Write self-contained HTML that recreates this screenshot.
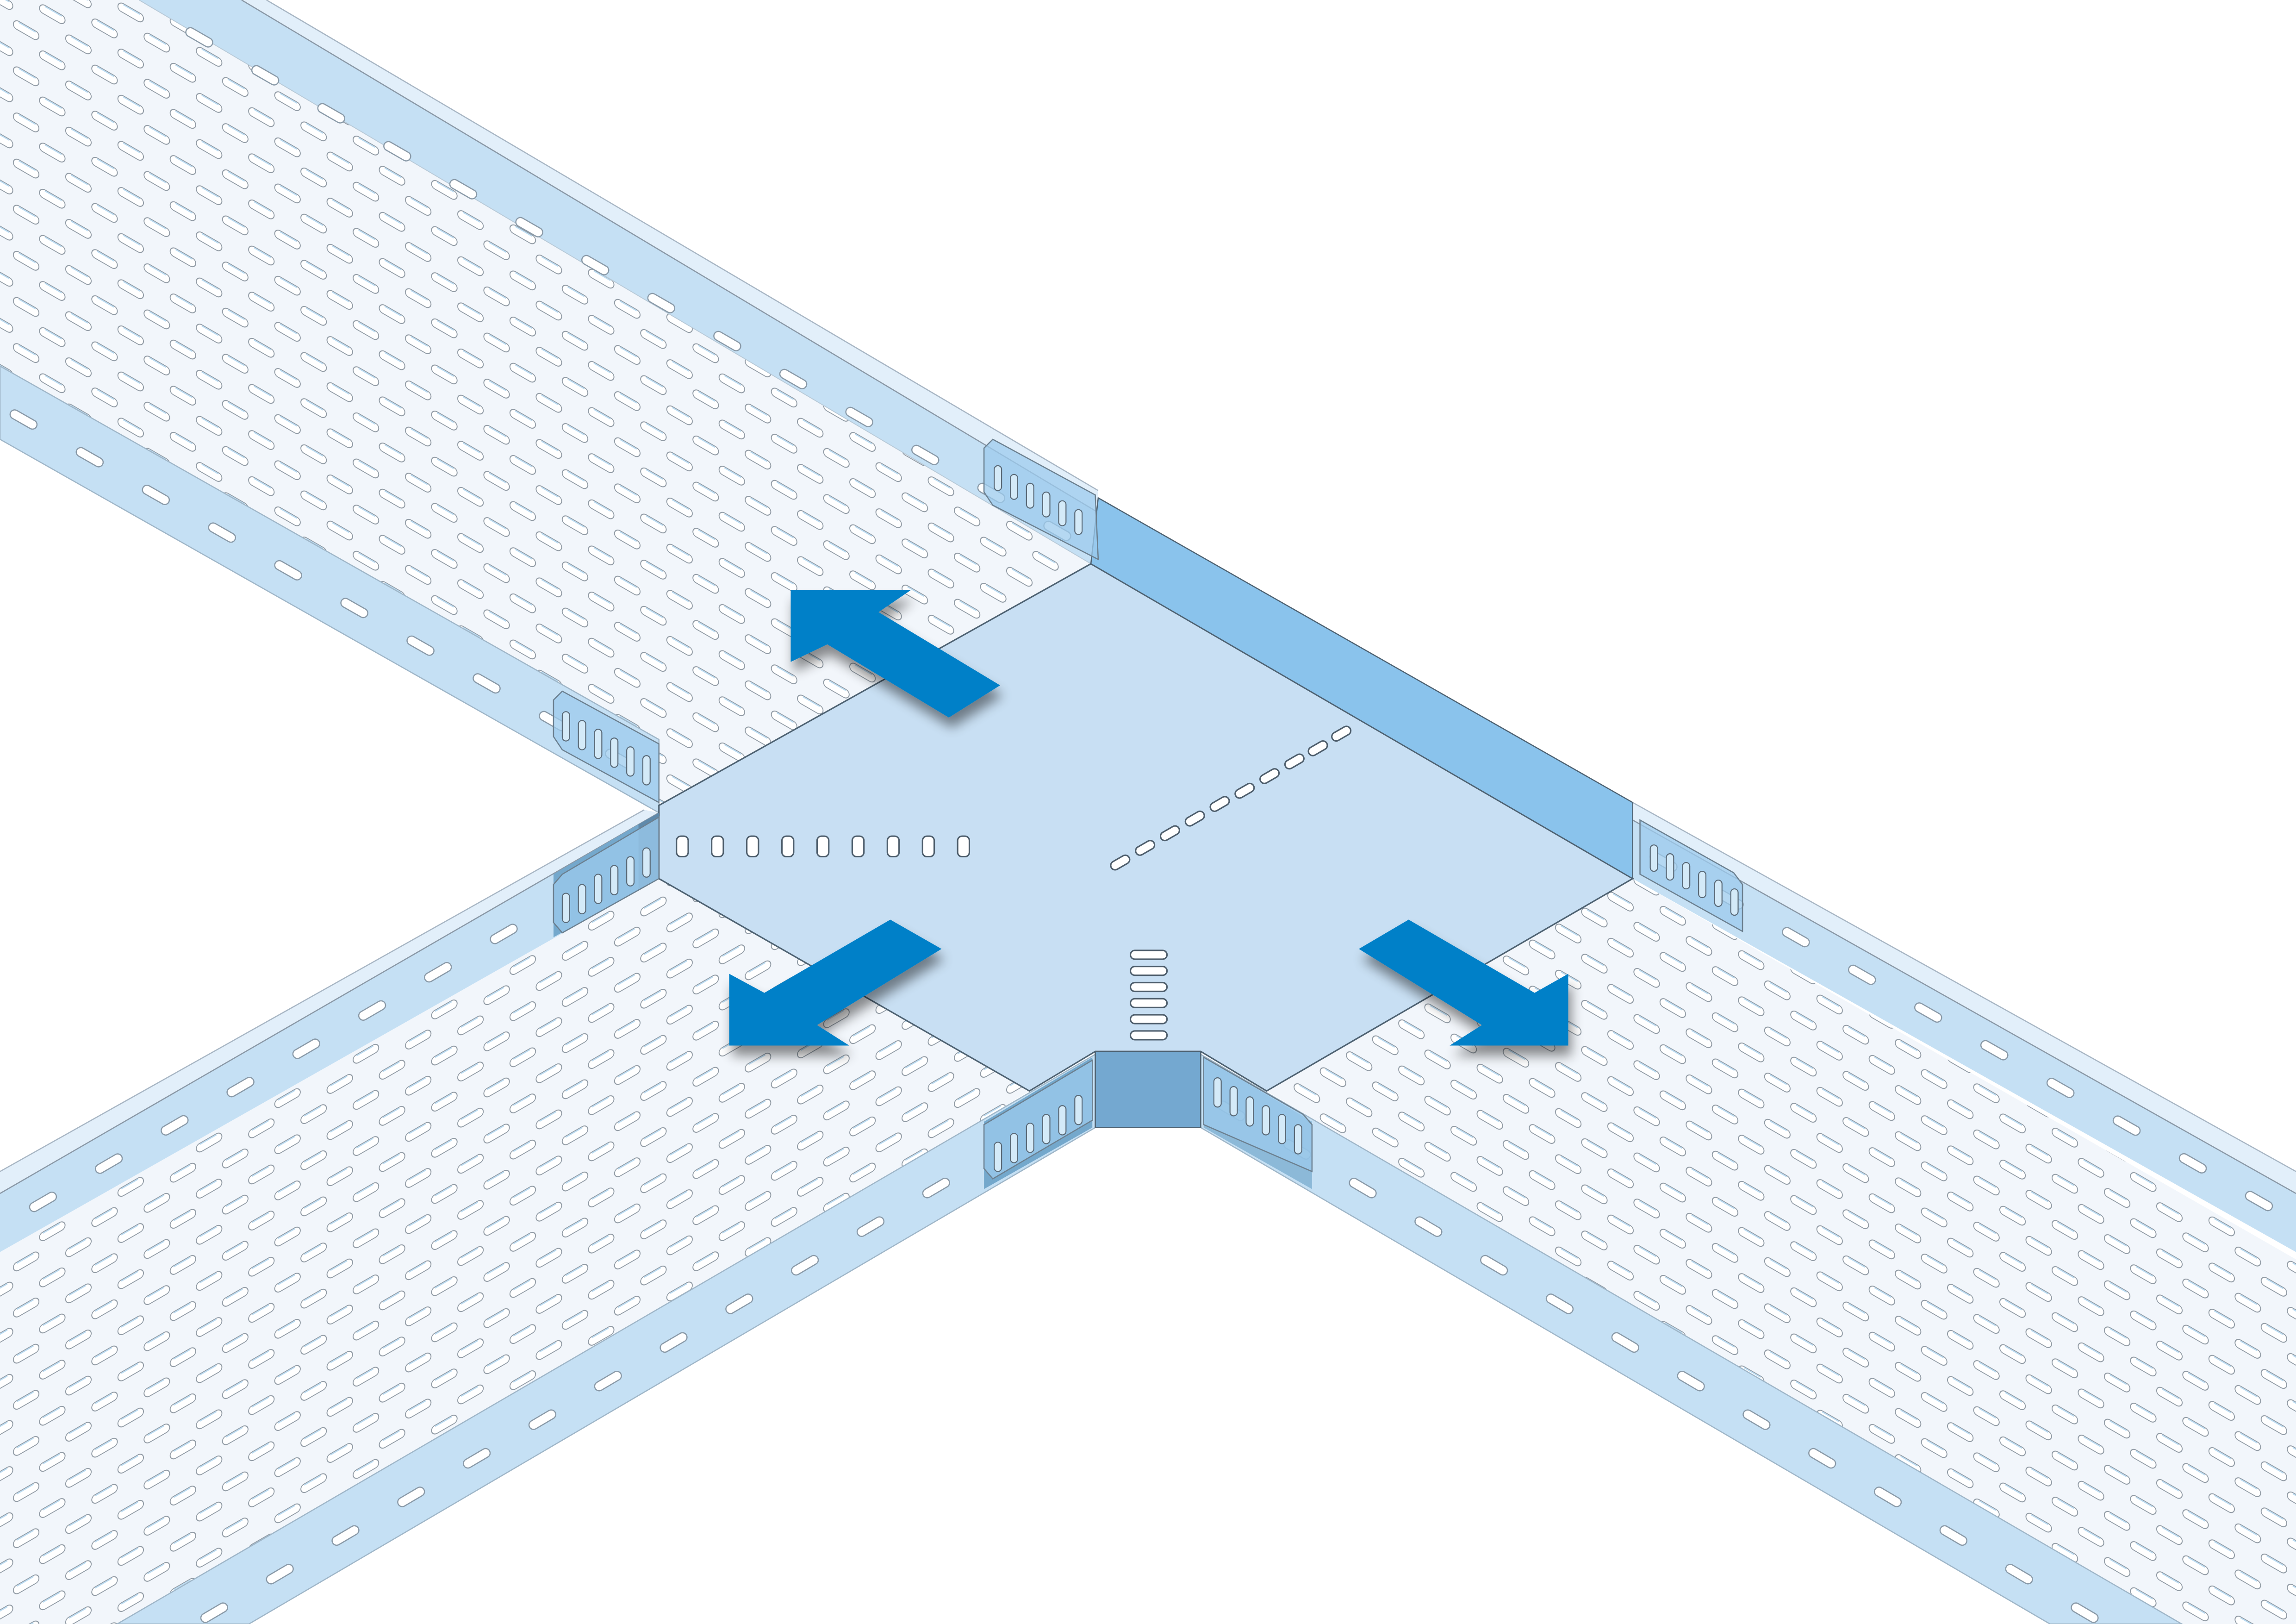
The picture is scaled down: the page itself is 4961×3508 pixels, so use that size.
<!DOCTYPE html>
<html><head><meta charset="utf-8"><style>
html,body{margin:0;padding:0;background:#fff}
svg{display:block}
</style></head><body>
<svg width="4961" height="3508" viewBox="0 0 1568 1109" xmlns="http://www.w3.org/2000/svg" preserveAspectRatio="none">
<defs>
<g id="hole"><rect x="-9" y="-3" width="18" height="6" rx="3" fill="#fff" stroke="#8e98a2" stroke-width="0.6"/><path d="M-6,-2.3 L6,-2.3" stroke="#bcdcf2" stroke-width="0.9"/></g>
<g id="holeA" transform="rotate(17)"><use href="#hole"/></g>
<g id="holeB" transform="rotate(-17)"><use href="#hole"/></g>
<pattern id="hA" width="35.7" height="31.5" patternUnits="userSpaceOnUse" patternTransform="skewY(15.2)">
<rect width="35.7" height="31.5" fill="#f2f6fb"/>
<use href="#holeA" x="0" y="0"/><use href="#holeA" x="35.7" y="0"/><use href="#holeA" x="0" y="31.5"/><use href="#holeA" x="35.7" y="31.5"/><use href="#holeA" x="17.85" y="15.75"/>
</pattern>
<pattern id="hB" width="35.7" height="31.5" patternUnits="userSpaceOnUse" patternTransform="skewY(-15.2)">
<rect width="35.7" height="31.5" fill="#f2f6fb"/>
<use href="#holeB" x="0" y="0"/><use href="#holeB" x="35.7" y="0"/><use href="#holeB" x="0" y="31.5"/><use href="#holeB" x="35.7" y="31.5"/><use href="#holeB" x="17.85" y="15.75"/>
</pattern>
<filter id="sh" x="-20%" y="-20%" width="150%" height="160%">
<feGaussianBlur in="SourceAlpha" stdDeviation="4"/>
<feOffset dx="2" dy="7"/>
<feComponentTransfer><feFuncA type="linear" slope="0.45"/></feComponentTransfer>
<feMerge><feMergeNode/><feMergeNode in="SourceGraphic"/></feMerge>
</filter>
</defs>
<rect width="1568" height="1109" fill="#fff"/>

<!-- Upper-left tray -->
<polygon points="0,0 95,0 745,385 450,550 0,250" fill="url(#hA)"/>
<polygon points="95,0 165,0 750,350 750,385 745,385" fill="#c5e0f4"/>
<polygon points="165,0 182,0 750,335 750,350" fill="#e2effa"/>
<line x1="165" y1="0" x2="750" y2="350" stroke="#8a98a6" stroke-width="0.8"/>
<line x1="182" y1="0" x2="750" y2="335" stroke="#a8b6c4" stroke-width="0.8"/>
<line x1="95" y1="0" x2="745" y2="385" stroke="#b8cad8" stroke-width="0.6"/>
<line x1="130" y1="22" x2="735" y2="370" stroke="#8a9aa8" stroke-width="7" stroke-dasharray="14 38" stroke-linecap="round"/>
<line x1="130" y1="22" x2="735" y2="370" stroke="#fff" stroke-width="5.4" stroke-dasharray="14 38" stroke-linecap="round"/>
<polygon points="0,250 450,505 450,555 0,300" fill="#c5e0f4" stroke="#9fb6c8" stroke-width="0.8"/>
<line x1="10" y1="283" x2="440" y2="528" stroke="#8a9aa8" stroke-width="7" stroke-dasharray="14 38" stroke-linecap="round"/>
<line x1="10" y1="283" x2="440" y2="528" stroke="#fff" stroke-width="5.4" stroke-dasharray="14 38" stroke-linecap="round"/>

<!-- Lower-left tray -->
<polygon points="450,600 703,745 110,1109 0,1109 0,850" fill="url(#hB)"/>
<polygon points="450,555 450,600 0,855 0,815" fill="#c5e0f4"/>
<polygon points="450,555 0,815 0,800 440,553" fill="#e2effa"/>
<line x1="450" y1="555" x2="0" y2="815" stroke="#8a98a6" stroke-width="0.8"/>
<line x1="440" y1="553" x2="0" y2="800" stroke="#a8b6c4" stroke-width="0.8"/>
<line x1="440" y1="582" x2="10" y2="832" stroke="#8a9aa8" stroke-width="7" stroke-dasharray="14 38" stroke-linecap="round"/>
<line x1="440" y1="582" x2="10" y2="832" stroke="#fff" stroke-width="5.4" stroke-dasharray="14 38" stroke-linecap="round"/>
<polygon points="748,720 748,770 170,1109 80,1109" fill="#c5e0f4" stroke="#9fb6c8" stroke-width="0.8"/>
<line x1="735" y1="755" x2="140" y2="1105" stroke="#8a9aa8" stroke-width="7" stroke-dasharray="14 38" stroke-linecap="round"/>
<line x1="735" y1="755" x2="140" y2="1105" stroke="#fff" stroke-width="5.4" stroke-dasharray="14 38" stroke-linecap="round"/>

<!-- Lower-right tray -->
<polygon points="865,745 1115,600 1568,860 1568,1109 1460,1109" fill="url(#hA)"/>
<polygon points="1115,560 1568,815 1568,855 1115,600" fill="#c5e0f4"/>
<polygon points="1115,548 1568,800 1568,815 1115,560" fill="#e2effa"/>
<line x1="1115" y1="560" x2="1568" y2="815" stroke="#8a98a6" stroke-width="0.8"/>
<line x1="1115" y1="548" x2="1568" y2="800" stroke="#a8b6c4" stroke-width="0.8"/>
<line x1="1130" y1="585" x2="1560" y2="830" stroke="#8a9aa8" stroke-width="7" stroke-dasharray="14 38" stroke-linecap="round"/>
<line x1="1130" y1="585" x2="1560" y2="830" stroke="#fff" stroke-width="5.4" stroke-dasharray="14 38" stroke-linecap="round"/>
<polygon points="820,720 820,770 1400,1109 1490,1109" fill="#c5e0f4" stroke="#9fb6c8" stroke-width="0.8"/>
<line x1="835" y1="755" x2="1430" y2="1105" stroke="#8a9aa8" stroke-width="7" stroke-dasharray="14 38" stroke-linecap="round"/>
<line x1="835" y1="755" x2="1430" y2="1105" stroke="#fff" stroke-width="5.4" stroke-dasharray="14 38" stroke-linecap="round"/>

<!-- Center plate -->
<polygon points="450,550 745,385 1115,600 865,745 820,718 748,718 703,745 450,600" fill="#c8dff3" stroke="#4e6272" stroke-width="1"/>
<polygon points="750,340 1115,548 1115,600 745,385" fill="#8ac3ec" stroke="#4e6272" stroke-width="0.8"/>
<polygon points="450,555 450,600 436,608 436,563" fill="#5f8aab"/>
<polygon points="436,563 436,608 378,640 378,597" fill="#74a8cc"/>
<rect x="748" y="718" width="72" height="52" fill="#74a8d0" stroke="#4e6272" stroke-width="0.8"/>
<polygon points="746,722 746,770 672,812 672,766" fill="#74a8cc"/>
<polygon points="822,722 822,770 896,812 896,766" fill="#74a8cc" fill-opacity="0.7"/>
<g fill="#fff" stroke="#4e5e6c" stroke-width="1">
<rect x="462" y="571" width="8" height="14" rx="3"/><rect x="486" y="571" width="8" height="14" rx="3"/><rect x="510" y="571" width="8" height="14" rx="3"/><rect x="534" y="571" width="8" height="14" rx="3"/><rect x="558" y="571" width="8" height="14" rx="3"/><rect x="582" y="571" width="8" height="14" rx="3"/><rect x="606" y="571" width="8" height="14" rx="3"/><rect x="630" y="571" width="8" height="14" rx="3"/><rect x="654" y="571" width="8" height="14" rx="3"/>
<rect x="772" y="649" width="25" height="6" rx="3"/><rect x="772" y="660" width="25" height="6" rx="3"/><rect x="772" y="671" width="25" height="6" rx="3"/><rect x="772" y="682" width="25" height="6" rx="3"/><rect x="772" y="693" width="25" height="6" rx="3"/><rect x="772" y="704" width="25" height="6" rx="3"/>
</g>
<g fill="#fff" stroke="#4e5e6c" stroke-width="1">
<rect x="-7" y="-3" width="14" height="6" rx="3" transform="translate(765,589) rotate(-30)"/>
<rect x="-7" y="-3" width="14" height="6" rx="3" transform="translate(782,579) rotate(-30)"/>
<rect x="-7" y="-3" width="14" height="6" rx="3" transform="translate(799,569) rotate(-30)"/>
<rect x="-7" y="-3" width="14" height="6" rx="3" transform="translate(816,559) rotate(-30)"/>
<rect x="-7" y="-3" width="14" height="6" rx="3" transform="translate(833,549) rotate(-30)"/>
<rect x="-7" y="-3" width="14" height="6" rx="3" transform="translate(850,540) rotate(-30)"/>
<rect x="-7" y="-3" width="14" height="6" rx="3" transform="translate(867,530) rotate(-30)"/>
<rect x="-7" y="-3" width="14" height="6" rx="3" transform="translate(884,520) rotate(-30)"/>
<rect x="-7" y="-3" width="14" height="6" rx="3" transform="translate(900,511) rotate(-30)"/>
<rect x="-7" y="-3" width="14" height="6" rx="3" transform="translate(916,501) rotate(-30)"/>
</g>

<!-- Connector plates -->
<g fill="#9ccbee" fill-opacity="0.75" stroke="#6c8090" stroke-width="0.8">
<polygon points="672,306 678,300 748,338 750,382 678,345 672,336"/>
<polygon points="378,478 384,472 450,508 450,548 384,512 378,503"/>
<polygon points="378,604 384,597 450,558 450,600 384,637 378,630"/>
<polygon points="1120,560 1184,596 1190,604 1190,636 1120,597"/>
<polygon points="672,768 746,724 746,765 678,805 672,798"/>
<polygon points="822,722 890,761 896,768 896,800 822,768"/>
</g>
<g fill="#d4eaf8" stroke="#5a6a78" stroke-width="0.7">
<rect x="679" y="318" width="5" height="17" rx="2.5"/><rect x="690" y="324" width="5" height="17" rx="2.5"/><rect x="701" y="330" width="5" height="17" rx="2.5"/><rect x="712" y="336" width="5" height="17" rx="2.5"/><rect x="723" y="342" width="5" height="17" rx="2.5"/><rect x="734" y="348" width="5" height="17" rx="2.5"/>
<rect x="384" y="486" width="5" height="20" rx="2.5"/><rect x="395" y="492" width="5" height="20" rx="2.5"/><rect x="406" y="498" width="5" height="20" rx="2.5"/><rect x="417" y="504" width="5" height="20" rx="2.5"/><rect x="428" y="510" width="5" height="20" rx="2.5"/><rect x="439" y="516" width="5" height="20" rx="2.5"/>
<rect x="384" y="610" width="5" height="20" rx="2.5"/><rect x="395" y="604" width="5" height="20" rx="2.5"/><rect x="406" y="597" width="5" height="20" rx="2.5"/><rect x="417" y="591" width="5" height="20" rx="2.5"/><rect x="428" y="585" width="5" height="20" rx="2.5"/><rect x="439" y="579" width="5" height="20" rx="2.5"/>
<rect x="1127" y="577" width="5" height="18" rx="2.5"/><rect x="1138" y="583" width="5" height="18" rx="2.5"/><rect x="1149" y="589" width="5" height="18" rx="2.5"/><rect x="1160" y="595" width="5" height="18" rx="2.5"/><rect x="1171" y="601" width="5" height="18" rx="2.5"/><rect x="1182" y="607" width="5" height="18" rx="2.5"/>
<rect x="679" y="780" width="5" height="20" rx="2.5"/><rect x="690" y="774" width="5" height="20" rx="2.5"/><rect x="701" y="767" width="5" height="20" rx="2.5"/><rect x="712" y="761" width="5" height="20" rx="2.5"/><rect x="723" y="755" width="5" height="20" rx="2.5"/><rect x="734" y="748" width="5" height="20" rx="2.5"/>
<rect x="829" y="736" width="5" height="20" rx="2.5"/><rect x="840" y="742" width="5" height="20" rx="2.5"/><rect x="851" y="749" width="5" height="20" rx="2.5"/><rect x="862" y="755" width="5" height="20" rx="2.5"/><rect x="873" y="761" width="5" height="20" rx="2.5"/><rect x="884" y="768" width="5" height="20" rx="2.5"/>
</g>

<!-- Arrows -->
<g fill="#0080c8" filter="url(#sh)">
<polygon points="540,403 622,403 600,418 683,468 648,490 565,440 540,452"/>
<polygon points="498,714 580,714 558,700 643,648 608,628 522,678 498,665"/>
<polygon points="1071,714 990,714 1012,700 928,648 962,628 1048,678 1071,665"/>
</g>
</svg>
</body></html>
